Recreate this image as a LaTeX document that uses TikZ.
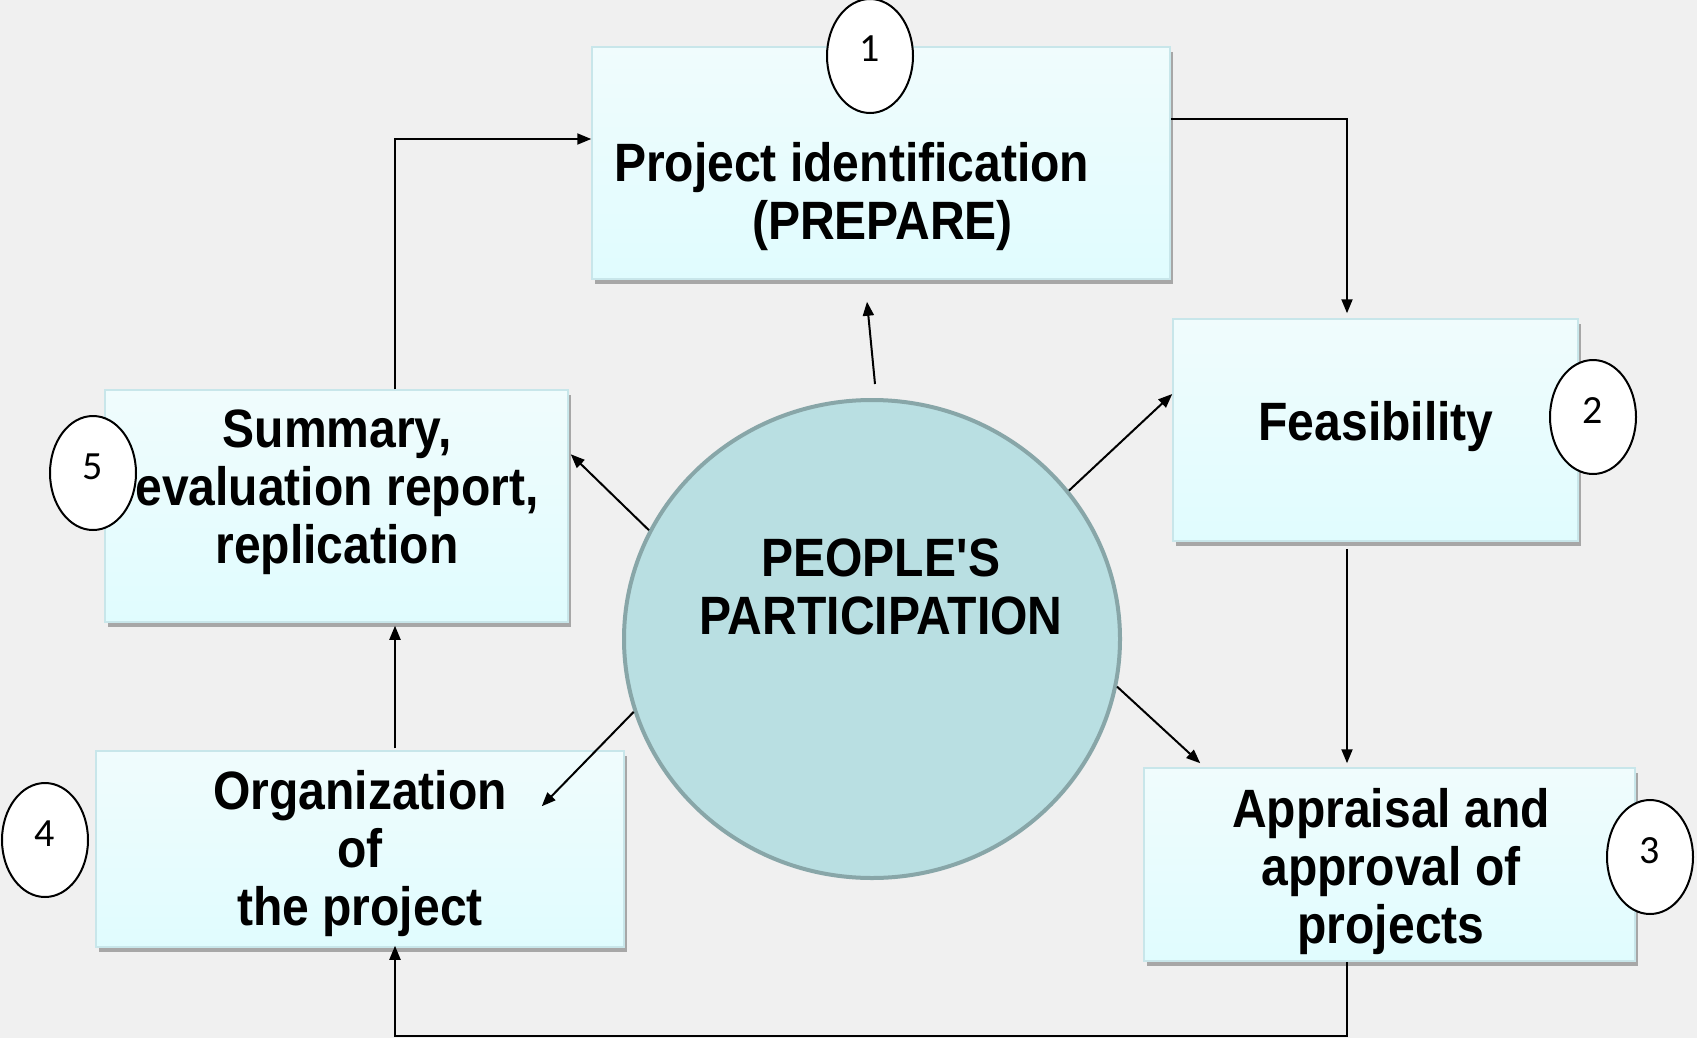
\documentclass[tikz,border=0pt]{standalone}
\usepackage{fontspec}
\newfontfamily\boxfont{Liberation Sans}[FakeStretch=0.89]
\newfontfamily\numfont{Carlito}
\usetikzlibrary{arrows.meta,shapes.geometric,shadows}
\definecolor{bg}{HTML}{F0F0F0}
\definecolor{boxtop}{HTML}{F0FCFD}
\definecolor{boxbot}{HTML}{E0FCFE}
\definecolor{boxline}{HTML}{C8E6EA}
\definecolor{hubfill}{HTML}{B9DFE2}
\definecolor{hubline}{HTML}{88A6A8}

\begin{document}
\begin{tikzpicture}[x=1pt, y=-1pt, line width=2pt,
    main/.style = {draw=boxline, line width=1.5pt, rectangle, top color=boxtop, bottom color=boxbot,
        drop shadow={shadow xshift=3pt, shadow yshift=-5pt, opacity=.3, fill=black}},
    txt/.style = {font=\boxfont\bfseries\fontsize{54}{58}\selectfont, align=center, inner sep=0pt},
    num/.style = {draw, ellipse, fill=white, line width=2pt, minimum width=86pt, minimum height=114pt,
        inner sep=0pt, text height=26pt, text depth=14pt, font=\numfont\fontsize{40}{40}\selectfont},
    hub/.style = {draw=hubline, fill=hubfill, ellipse, line width=4pt, minimum width=496pt, minimum height=478pt},
    arr/.style = {-{Triangle[length=14pt,width=11pt]}}]
    \useasboundingbox (0,0) rectangle (1697,1038);
    \fill[bg] (0,0) rectangle (1697,1038);

    % boxes
    \node[main, minimum width=578pt, minimum height=232pt] (1) at (881,163) {};
    \node[main, minimum width=405pt, minimum height=222pt] (2) at (1375.5,430) {};
    \node[main, minimum width=491pt, minimum height=193pt] (3) at (1389.5,864.5) {};
    \node[main, minimum width=528pt, minimum height=196pt] (4) at (360,849) {};
    \node[main, minimum width=463pt, minimum height=232pt] (5) at (336.5,506) {};
    \node[hub] (c) at (872,639) {};

    % texts
    \node[txt, anchor=west, align=left] (t1) at (613,197) {Project identification\\\hspace*{138pt}(PREPARE)};
    \node[txt] (t2) at (1376,427) {Feasibility};
    \node[txt] (t3) at (1391,872) {Appraisal and\\approval of\\projects};
    \node[txt] (t4) at (360,854) {Organization\\of\\the project};
    \node[txt] (t5) at (337,492) {Summary,\\evaluation report,\\replication};
    \node[txt] (tc) at (881,587) {PEOPLE\textquotesingle S\\PARTICIPATION};

    % numbers
    \node[num] (m1) at (870,56) {1};
    \node[num] (m2) at (1593,417) {2};
    \node[num] (m3) at (1650,857) {3};
    \node[num] (m4) at (45,840) {4};
    \node[num] (m5) at (93,473) {5};

    % cycle
    \coordinate (v) at (395,0);
    \coordinate (w) at (1347,0);
    \coordinate (b) at (0,1036);
    \draw[arr] (5.north -| v) |- ([yshift=24pt]1.west);
    \draw[arr, shorten >=5pt] ([yshift=44pt]1.east) -| (2.north -| w);
    \draw[arr, shorten <=7pt, shorten >=4pt] (2.south -| w) -- (3.north -| w);
    \draw[arr, shorten >=-2pt] (3.south -| w) |- (b -| v) -- (4.south -| v);
    \draw[arr, shorten <=2pt, shorten >=3pt] (4.north -| v) -- (5.south -| v);

    % spokes
    \draw[arr] ([xshift=3pt,yshift=14pt]c.north) -- ([xshift=-14pt,yshift=-22pt]1.south);
    \draw[arr] (c.37) -- ([yshift=36pt]2.west);
    \draw[arr] (c.-11) -- ([xshift=57pt,yshift=4pt]3.north west);
    \draw[arr] (c.197) -- ([xshift=-83pt,yshift=-56pt]4.north east);
    \draw[arr] (c.154) -- ([xshift=2pt,yshift=-65pt]5.north east);
\end{tikzpicture}
\end{document}
